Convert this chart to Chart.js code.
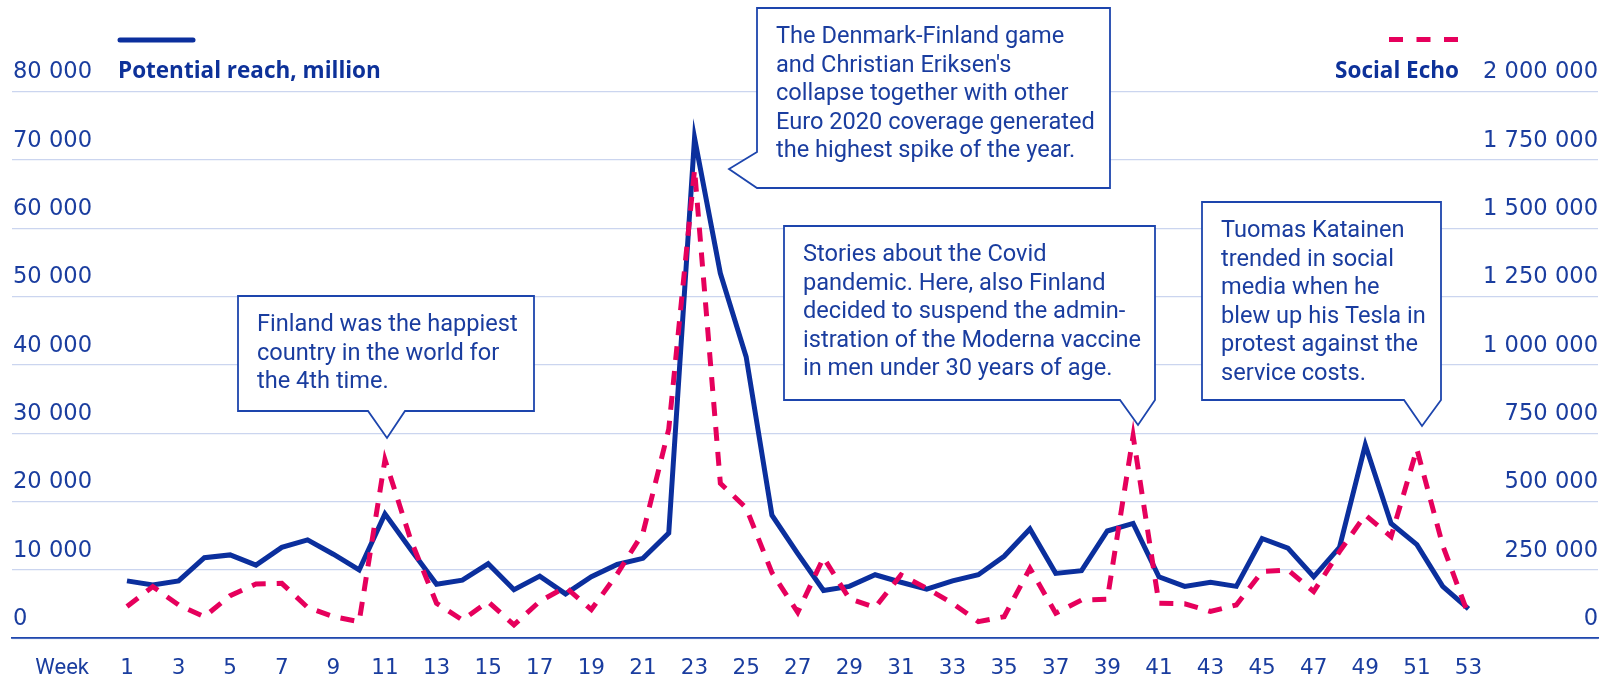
<!DOCTYPE html>
<html>
<head>
<meta charset="utf-8">
<script src="https://cdn.jsdelivr.net/npm/chart.js@4.4.1/dist/chart.umd.min.js"></script>
<style>
  html, body { margin: 0; padding: 0; background: #fff; }
  #wrap { width: 1602px; height: 680px; }
</style>
</head>
<body>
<div id="wrap"><canvas id="chart" width="1602" height="680"></canvas></div>
<script>
// Weekly values
const weeks = [1, 2, 3, 4, 5, 6, 7, 8, 9, 10, 11, 12, 13, 14, 15, 16, 17, 18, 19, 20,
    21, 22, 23, 24, 25, 26, 27, 28, 29, 30, 31, 32, 33, 34, 35, 36, 37, 38, 39, 40,
    41, 42, 43, 44, 45, 46, 47, 48, 49, 50, 51, 52, 53];

// Potential reach, million (left axis)
const reach = [8400, 7800, 8400, 11800, 12200, 10700, 13300, 14400, 12300, 10000,
    18200, 13000, 7900, 8500, 10900, 7100, 9100, 6500, 9000, 10800,
    11700, 15400, 73200, 53400, 41200, 18000, 12400, 7000, 7600, 9300,
    8200, 7200, 8400, 9300, 12000, 16000, 9500, 9900, 15700, 16800,
    9000, 7600, 8200, 7600, 14600, 13200, 9000, 13300, 28300, 16800,
    13700, 7600, 4300];

// Social Echo (right axis)
const echo = [116000, 189000, 122000, 79000, 156000, 199000, 201000, 113000, 79000, 61000,
    653000, 360000, 128000, 67000, 134000, 49000, 135000, 187000, 105000, 235000,
    385000, 765000, 1715000, 567000, 477000, 240000, 95000, 295000, 145000, 113000,
    232000, 183000, 128000, 61000, 79000, 256000, 92000, 140000, 143000, 740000,
    128000, 126000, 98000, 122000, 244000, 250000, 171000, 317000, 451000, 372000,
    692000, 340000, 85000];

const leftTicks = [0, 10000, 20000, 30000, 40000, 50000, 60000, 70000, 80000];
const rightTicks = [0, 250000, 500000, 750000, 1000000, 1250000, 1500000, 1750000, 2000000];
const weekTicks = [1, 3, 5, 7, 9, 11, 13, 15, 17, 19, 21, 23, 25, 27, 29, 31, 33, 35, 37, 39,
    41, 43, 45, 47, 49, 51, 53];

const BLUE = '#0b2f9d';
const PINK = '#e6005c';
const TEXT = '#1a3d9f';
const GRID = '#cbd5ef';
const FONT = 'Roboto, "Open Sans", sans-serif';
const BOLDFONT = '"Open Sans", Roboto, sans-serif';
const NUMFONT = '"DejaVu Sans", sans-serif';

const notes = [
    {
        lines: ['Finland was the happiest', 'country in the world for', 'the 4th time.'],
        box: [238, 296, 534, 411], side: 'bottom', base: [368, 405], tip: [387, 438]
    },
    {
        lines: ['The Denmark-Finland game', "and Christian Eriksen's", 'collapse together with other',
            'Euro 2020 coverage generated', 'the highest spike of the year.'],
        box: [757, 8, 1110, 188], side: 'left', base: [152, 188], tip: [729, 169]
    },
    {
        lines: ['Stories about the Covid', 'pandemic. Here, also Finland', 'decided to suspend the admin-',
            'istration of the Moderna vaccine', 'in men under 30 years of age.'],
        box: [784, 226, 1155, 400], side: 'bottom', base: [1120, 1155], tip: [1138, 425]
    },
    {
        lines: ['Tuomas Katainen', 'trended in social', 'media when he', 'blew up his Tesla in',
            'protest against the', 'service costs.'],
        box: [1202, 202, 1441, 400], side: 'bottom', base: [1404, 1441], tip: [1422, 426]
    }
];

function fmt(v) {
    return String(v).replace(/\B(?=(\d{3})+(?!\d))/g, ' ');
}

function drawNote(ctx, n) {
    const [l, t, r, b] = n.box;
    ctx.beginPath();
    ctx.moveTo(l, t);
    ctx.lineTo(r, t);
    if (n.side === 'bottom') {
        ctx.lineTo(r, b);
        ctx.lineTo(n.base[1], b);
        ctx.lineTo(n.tip[0], n.tip[1]);
        ctx.lineTo(n.base[0], b);
        ctx.lineTo(l, b);
    } else {
        ctx.lineTo(r, b);
        ctx.lineTo(l, b);
        ctx.lineTo(n.tip[0], n.tip[1]);
        ctx.lineTo(l, n.base[0]);
    }
    ctx.closePath();
    ctx.fillStyle = '#fff';
    ctx.fill();
    ctx.lineWidth = 1.8;
    ctx.strokeStyle = '#1d45ad';
    ctx.lineJoin = 'miter';
    ctx.stroke();

    ctx.fillStyle = TEXT;
    ctx.font = '23.6px ' + FONT;
    ctx.textAlign = 'left';
    ctx.textBaseline = 'middle';
    n.lines.forEach((line, i) => {
        ctx.fillText(line, l + 19, t + 29 + i * 28.6);
    });
}

const decorations = {
    id: 'decorations',
    afterDraw(chart) {
        const ctx = chart.ctx;
        const area = chart.chartArea;
        const x = chart.scales.x;
        const yl = chart.scales.y;
        const yr = chart.scales.y2;
        ctx.save();

        // axis numbers
        ctx.fillStyle = TEXT;
        ctx.font = '22.6px ' + NUMFONT;
        ctx.textBaseline = 'middle';
        ctx.textAlign = 'left';
        leftTicks.forEach(v => ctx.fillText(fmt(v), area.left + 1, yl.getPixelForValue(v) - 19));
        ctx.textAlign = 'right';
        rightTicks.forEach(v => ctx.fillText(fmt(v), area.right, yr.getPixelForValue(v) - 19));
        ctx.font = '21.5px ' + NUMFONT;
        ctx.textAlign = 'center';
        weekTicks.forEach(w => ctx.fillText(String(w), x.getPixelForValue(w), 668));
        ctx.font = '22px ' + FONT;
        ctx.textAlign = 'right';
        ctx.fillText('Week', 89, 668);

        // legend
        ctx.strokeStyle = BLUE;
        ctx.lineWidth = 5;
        ctx.lineCap = 'round';
        ctx.beginPath();
        ctx.moveTo(120, 40);
        ctx.lineTo(193, 40);
        ctx.stroke();
        ctx.strokeStyle = PINK;
        ctx.lineCap = 'butt';
        ctx.setLineDash([14, 13.5]);
        ctx.beginPath();
        ctx.moveTo(1389, 39.5);
        ctx.lineTo(1459, 39.5);
        ctx.stroke();
        ctx.setLineDash([]);

        ctx.fillStyle = '#0d3199';
        ctx.font = 'bold 22.5px ' + BOLDFONT;
        ctx.textAlign = 'left';
        ctx.fillText('Potential reach, million', 118, 72);
        ctx.textAlign = 'right';
        ctx.fillText('Social Echo', 1459, 72);

        notes.forEach(n => drawNote(ctx, n));
        ctx.restore();
    }
};

new Chart(document.getElementById('chart'), {
    type: 'line',
    data: {
        datasets: [
            {
                label: 'Social Echo',
                data: weeks.map((w, i) => ({ x: w, y: echo[i] })),
                yAxisID: 'y2',
                borderColor: PINK,
                borderWidth: 5,
                borderDash: [14, 11],
                borderJoinStyle: 'miter',
                pointRadius: 0,
                tension: 0,
                order: 0
            },
            {
                label: 'Potential reach, million',
                data: weeks.map((w, i) => ({ x: w, y: reach[i] })),
                yAxisID: 'y',
                borderColor: BLUE,
                borderWidth: 5,
                borderJoinStyle: 'miter',
                pointRadius: 0,
                tension: 0,
                order: 1
            }
        ]
    },
    options: {
        responsive: false,
        animation: false,
        devicePixelRatio: 1,
        layout: { padding: { top: 91.5, left: 12, right: 4, bottom: 41.7 } },
        plugins: { legend: { display: false }, tooltip: { enabled: false } },
        scales: {
            x: {
                type: 'linear',
                min: -3.457,
                max: 58.02,
                grid: { display: false, drawTicks: false },
                border: { display: true, color: '#2148ae', width: 1.8 },
                ticks: { display: false }
            },
            y: {
                position: 'left',
                min: 0,
                max: 80000,
                ticks: { display: false, stepSize: 10000 },
                grid: { color: GRID, lineWidth: 1.3, drawTicks: false },
                border: { display: false }
            },
            y2: {
                position: 'right',
                min: 0,
                max: 2000000,
                ticks: { display: false, stepSize: 250000 },
                grid: { display: false, drawTicks: false },
                border: { display: false }
            }
        }
    },
    plugins: [decorations]
});
</script>
</body>
</html>
